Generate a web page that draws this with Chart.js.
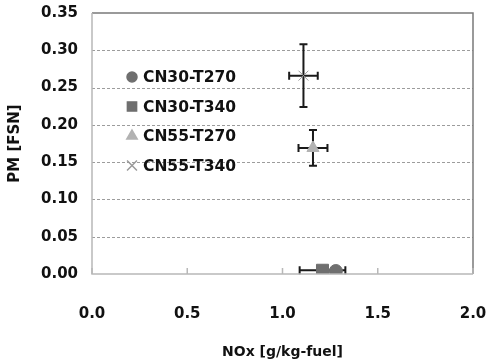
<!DOCTYPE html>
<html>
<head>
<meta charset="utf-8">
<script src="https://cdn.jsdelivr.net/npm/chart.js@4"></script>
<style>
  html, body { margin: 0; padding: 0; background: #fff; }
  #wrap { width: 488px; height: 362px; }
</style>
</head>
<body>
<div id="wrap"><canvas id="pmChart" width="488" height="362"></canvas></div>
<script>
// series
const seriesNames = ["CN30-T270", "CN30-T340", "CN55-T270", "CN55-T340"]
const noxValues = [1.28, 1.21, 1.16, 1.11]
const pmValues = [0.004, 0.005, 0.169, 0.266]
const noxErr = [0, 0.12, 0.076, 0.075]
const pmErr = [0, 0, 0.024, 0.042]

const markerStyles = ["circle", "rect", "triangle", "crossRot"]
const markerColors = ["#6f6f6f", "#6f6f6f", "#b2b2b2", "#9a9a9a"]
const markerSizes = [6.5, 8.5, 7, 7]
const legendSizes = [5, 6.5, 6, 7]

const FONT = "'DejaVu Sans', Arial, sans-serif"

// dashed grid + error bars, under the markers
const errorBars = {
    id: "errorBars",
    beforeDatasetsDraw(chart) {
        const ctx = chart.ctx
        const a = chart.chartArea
        const xs = chart.scales.x
        const ys = chart.scales.y
        ctx.save()
        ctx.strokeStyle = "#9c9c9c"
        ctx.lineWidth = 1
        ctx.setLineDash([3, 2])
        ctx.beginPath()
        ys.ticks.forEach(t => {
            if (t.value <= 0 || t.value >= 0.35 - 1e-9) return
            const py = Math.round(ys.getPixelForValue(t.value)) + 0.5
            ctx.moveTo(a.left, py); ctx.lineTo(a.right, py)
        })
        ctx.stroke()
        ctx.setLineDash([])

        ctx.strokeStyle = "#1a1a1a"
        ctx.lineWidth = 2
        for (let i = 0; i < seriesNames.length; i++) {
            const cx = xs.getPixelForValue(noxValues[i])
            const cy = ys.getPixelForValue(pmValues[i])
            if (noxErr[i] > 0) {
                const x1 = xs.getPixelForValue(noxValues[i] - noxErr[i])
                const x2 = xs.getPixelForValue(noxValues[i] + noxErr[i])
                ctx.beginPath()
                ctx.moveTo(x1, cy); ctx.lineTo(x2, cy)
                ctx.moveTo(x1, cy - 4); ctx.lineTo(x1, cy + 4)
                ctx.moveTo(x2, cy - 4); ctx.lineTo(x2, cy + 4)
                ctx.stroke()
            }
            if (pmErr[i] > 0) {
                const y1 = ys.getPixelForValue(pmValues[i] - pmErr[i])
                const y2 = ys.getPixelForValue(pmValues[i] + pmErr[i])
                ctx.beginPath()
                ctx.moveTo(cx, y1); ctx.lineTo(cx, y2)
                ctx.moveTo(cx - 4, y1); ctx.lineTo(cx + 4, y1)
                ctx.moveTo(cx - 4, y2); ctx.lineTo(cx + 4, y2)
                ctx.stroke()
            }
        }
        ctx.restore()
    }
}

// frame, inner x ticks and the legend inside the plot
const frameAndLegend = {
    id: "frameAndLegend",
    afterDraw(chart) {
        const ctx = chart.ctx
        const a = chart.chartArea
        const xs = chart.scales.x
        ctx.save()
        ctx.lineWidth = 1.5
        ctx.strokeStyle = "#7a7a7a"
        ctx.beginPath()
        ctx.moveTo(a.left, a.top); ctx.lineTo(a.right, a.top); ctx.lineTo(a.right, a.bottom)
        ctx.stroke()
        ctx.strokeStyle = "#b8b8b8"
        ctx.beginPath()
        ctx.moveTo(a.left, a.top); ctx.lineTo(a.left, a.bottom); ctx.lineTo(a.right, a.bottom)
        ctx.stroke()
        ctx.beginPath()
        xs.ticks.forEach(t => {
            const px = xs.getPixelForValue(t.value)
            ctx.moveTo(px, a.bottom); ctx.lineTo(px, a.bottom - 6)
        })
        ctx.stroke()

        ctx.font = "bold 15.5px " + FONT
        ctx.textBaseline = "middle"
        for (let i = 0; i < seriesNames.length; i++) {
            const ly = a.top + 64 + i * 29.5
            const lx = a.left + 40
            ctx.fillStyle = markerColors[i]
            ctx.strokeStyle = markerColors[i]
            Chart.helpers.drawPoint(ctx, {pointStyle: markerStyles[i], radius: legendSizes[i], borderWidth: 1}, lx, ly)
            ctx.fillStyle = "#111"
            ctx.fillText(seriesNames[i], lx + 11, ly + 1)
        }
        ctx.restore()
    }
}

const datasets = seriesNames.map((name, i) => ({
    label: name,
    data: [{x: noxValues[i], y: pmValues[i]}],
    pointStyle: markerStyles[i],
    pointRadius: markerSizes[i],
    pointBackgroundColor: markerColors[i],
    pointBorderColor: markerColors[i],
    pointBorderWidth: 1,
    showLine: false
}))

new Chart(document.getElementById("pmChart"), {
    type: "scatter",
    data: {datasets: datasets},
    plugins: [errorBars, frameAndLegend],
    options: {
        responsive: false,
        animation: false,
        layout: {padding: {top: 13, right: 15, left: 0, bottom: 0}},
        plugins: {legend: {display: false}, tooltip: {enabled: false}},
        scales: {
            x: {
                min: 0, max: 2,
                ticks: {stepSize: 0.5, padding: 31, color: "#111",
                    font: {family: FONT, size: 15, weight: "bold"},
                    callback: v => v.toFixed(1)},
                grid: {display: false, drawTicks: false},
                border: {display: false},
                title: {display: true, text: "NOx [g/kg-fuel]", color: "#111",
                    font: {family: FONT, size: 14, weight: "bold"}, padding: {top: 0, bottom: 1}},
                afterFit: s => { s.height = 88; s.paddingLeft = 0; s.paddingRight = 0 }
            },
            y: {
                min: 0, max: 0.35,
                ticks: {stepSize: 0.05, padding: 14, color: "#111",
                    font: {family: FONT, size: 15, weight: "bold"},
                    callback: v => v.toFixed(2)},
                grid: {display: false, drawTicks: false},
                border: {display: false},
                title: {display: true, text: "PM [FSN]", color: "#111",
                    font: {family: FONT, size: 15, weight: "bold"}, padding: {top: 6, bottom: 0}},
                afterFit: s => { s.width = 92; s.paddingTop = 0; s.paddingBottom = 0 }
            }
        }
    }
})
</script>
</body>
</html>
